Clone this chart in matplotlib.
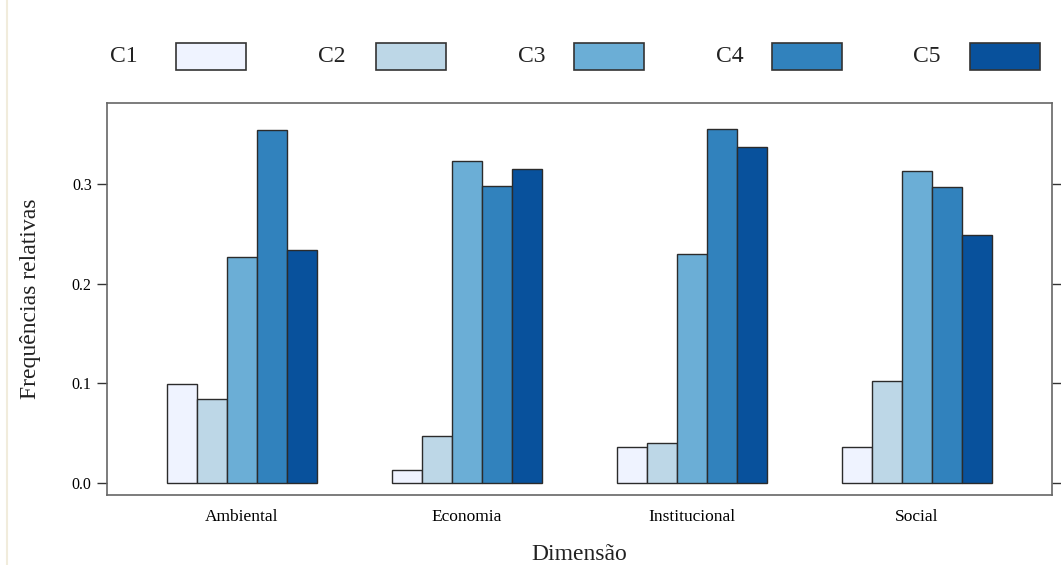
import numpy as np
import matplotlib
matplotlib.use("Agg")
from matplotlib import pyplot as plt
from matplotlib.patches import Rectangle

# dados
dimensoes = ["Ambiental", "Economia", "Institucional", "Social"]
classes = ["C1", "C2", "C3", "C4", "C5"]
c1 = [0.099, 0.013, 0.036, 0.036]
c2 = [0.084, 0.047, 0.040, 0.103]
c3 = [0.227, 0.323, 0.230, 0.313]
c4 = [0.354, 0.298, 0.355, 0.297]
c5 = [0.234, 0.315, 0.337, 0.249]
cores = ["#EFF3FF", "#BDD7E7", "#6BAED6", "#3182BD", "#08519C"]

plt.rcParams['font.family'] = ['Liberation Serif', 'DejaVu Serif']

fig = plt.figure(figsize=(10.61, 5.65), dpi=100)
ax = fig.add_axes([107 / 1061, 1 - 495 / 565, 945 / 1061, 392 / 565])

series = [c1, c2, c3, c4, c5]
x = np.arange(1, len(dimensoes) + 1)
w = 0.1333
for i, vals in enumerate(series):
    ax.bar(x + (i - 2) * w, vals, width=w, color=cores[i],
           edgecolor="#2b2b2b", linewidth=1.0, zorder=2)

ax.set_xlim(0.4, 4.6)
ax.set_ylim(-0.0117, 0.381)
ax.set_yticks([0.0, 0.1, 0.2, 0.3])
ax.set_yticklabels(["0.0", "0.1", "0.2", "0.3"])
ax.set_xticks(x)
ax.set_xticklabels(dimensoes)
ax.tick_params(axis="y", which="both", direction="out", length=7, width=1,
               color="#333333", labelsize=11.5, right=True, left=True, pad=4)
ax.tick_params(axis="x", length=0, labelsize=12.5, pad=10)
for s in ax.spines.values():
    s.set_color("#666666")
    s.set_linewidth(1.2)

ax.set_ylabel("Frequências relativas", fontsize=17, labelpad=22, color="#222222")
ax.set_xlabel("Dimensão", fontsize=17, labelpad=14, color="#222222")

# legenda no topo (estilo lattice)
txt_x = [110, 318, 518, 716, 913]
box_x = [176, 376, 574, 772, 970]
for i, nome in enumerate(classes):
    fig.text(txt_x[i] / 1061, 1 - 57 / 565, nome, fontsize=17,
             va="center", ha="left", color="#222222")
    fig.add_artist(Rectangle((box_x[i] / 1061, 1 - 70 / 565),
                             70 / 1061, 27 / 565, transform=fig.transFigure,
                             facecolor=cores[i], edgecolor="#333333", linewidth=1.2))

# borda da página à esquerda
fig.add_artist(plt.Line2D([7 / 1061, 7 / 1061], [0, 1], transform=fig.transFigure,
                          color="#f1ecdc", linewidth=1.5))

plt.savefig("out.png", dpi=100)
